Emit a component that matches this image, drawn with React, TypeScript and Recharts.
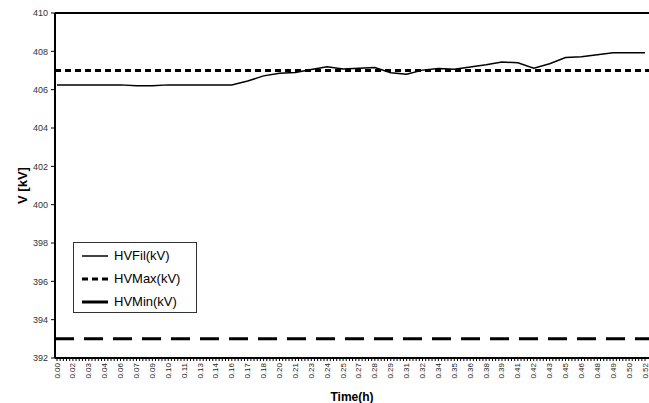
import { LineChart, Line, XAxis, YAxis, ReferenceLine, Legend } from 'recharts'

// time labels shown on the category axis (hours)
const timeLabels = [
  '0.00', '0.02', '0.03', '0.04', '0.06', '0.07', '0.09', '0.10', '0.11', '0.13',
  '0.14', '0.16', '0.17', '0.18', '0.20', '0.21', '0.23', '0.24', '0.25', '0.27',
  '0.28', '0.29', '0.31', '0.32', '0.34', '0.35', '0.36', '0.38', '0.39', '0.41',
  '0.42', '0.43', '0.45', '0.46', '0.48', '0.49', '0.50', '0.52',
]

// filtered HV voltage (kV)
const hvFil = [
  406.25, 406.25, 406.25, 406.25, 406.25, 406.2, 406.2, 406.25, 406.25, 406.25,
  406.25, 406.25, 406.45, 406.72, 406.86, 406.9, 407.05, 407.2, 407.08, 407.12,
  407.15, 406.88, 406.8, 407.02, 407.1, 407.07, 407.18, 407.3, 407.44, 407.4,
  407.12, 407.35, 407.68, 407.72, 407.82, 407.93, 407.93, 407.93,
]

const hvMaxLimit = 407
const hvMinLimit = 393

const yTicks = [392, 394, 396, 398, 400, 402, 404, 406, 408, 410]

const data = timeLabels.map((t, i) => ({ i, t, fil: hvFil[i] }))

const lastIdx = timeLabels.length - 1
// small tick marks, five per labelled step
const xTicks = Array.from({ length: lastIdx * 5 + 1 }, (_, k) => k / 5)

const font = '"Liberation Sans", Arial, sans-serif'

const XTick = ({ x, y, payload }: any) => {
  if (!Number.isInteger(payload.value)) return <g />
  return (
    <text
      x={x}
      y={y}
      transform={`rotate(-90, ${x}, ${y})`}
      textAnchor="end"
      dominantBaseline="central"
      fontSize={8}
      fontFamily={font}
      fill="#222"
    >
      {timeLabels[payload.value]}
    </text>
  )
}

const legendItems = [
  { name: 'HVFil(kV)', width: 1.5, dash: undefined },
  { name: 'HVMax(kV)', width: 3, dash: '6 4' },
  { name: 'HVMin(kV)', width: 3, dash: '30 0' },
]

const LegendBox = () => (
  <div
    style={{
      border: '1px solid #333',
      background: '#fff',
      width: 124,
      height: 71,
      boxSizing: 'border-box',
      padding: '1px 0 0 8px',
      fontFamily: font,
      fontSize: 13,
      textAlign: 'left',
    }}
  >
    {legendItems.map((it) => (
      <div key={it.name} style={{ display: 'flex', alignItems: 'center', height: 23 }}>
        <svg width={30} height={6} style={{ marginRight: 2 }}>
          <line x1={0} y1={3} x2={26} y2={3} stroke="#000" strokeWidth={it.width} strokeDasharray={it.dash} />
        </svg>
        <span>{it.name}</span>
      </div>
    ))}
  </div>
)

export default function App() {
  return (
    <div style={{ position: 'absolute', left: 0, top: 0, background: '#fff' }}>
      <LineChart width={649} height={403} data={data} margin={{ top: 13, right: 0, bottom: 0, left: 0 }}>
        <XAxis
          dataKey="i"
          type="number"
          domain={[0, lastIdx]}
          ticks={xTicks}
          interval={0}
          padding={{ left: 2, right: 4 }}
          stroke="#000"
          strokeWidth={2}
          tickSize={3}
          tickLine={{ strokeWidth: 1 }}
          tick={<XTick />}
          height={45}
          label={{
            value: 'Time(h)',
            position: 'insideBottom',
            offset: 2,
            style: { fontFamily: font, fontSize: 12, fontWeight: 'bold', fill: '#000' },
          }}
        />
        <YAxis
          type="number"
          domain={[392, 410]}
          ticks={yTicks}
          interval={0}
          width={55}
          stroke="#000"
          strokeWidth={2}
          tickSize={4}
          tickMargin={3}
          tickLine={{ strokeWidth: 1 }}
          tick={{ fontSize: 9, fontFamily: font, fill: '#333' }}
          label={{
            value: 'V [kV]',
            angle: -90,
            position: 'insideLeft',
            offset: 22,
            style: { textAnchor: 'middle', fontFamily: font, fontSize: 13, fontWeight: 'bold', fill: '#000' },
          }}
        />
        <ReferenceLine y={410} stroke="#000" strokeWidth={2} />
        <ReferenceLine y={hvMaxLimit} stroke="#000" strokeWidth={3} strokeDasharray="6 4" />
        <ReferenceLine y={hvMinLimit} stroke="#000" strokeWidth={3} strokeDasharray="19 10" />
        <Line
          type="linear"
          dataKey="fil"
          name="HVFil(kV)"
          stroke="#000"
          strokeWidth={1.5}
          dot={false}
          isAnimationActive={false}
        />
        <Legend
          layout="horizontal"
          verticalAlign="middle"
          align="center"
          content={<LegendBox />}
          wrapperStyle={{ left: 73, top: 242, width: 124, height: 71 }}
        />
      </LineChart>
    </div>
  )
}
